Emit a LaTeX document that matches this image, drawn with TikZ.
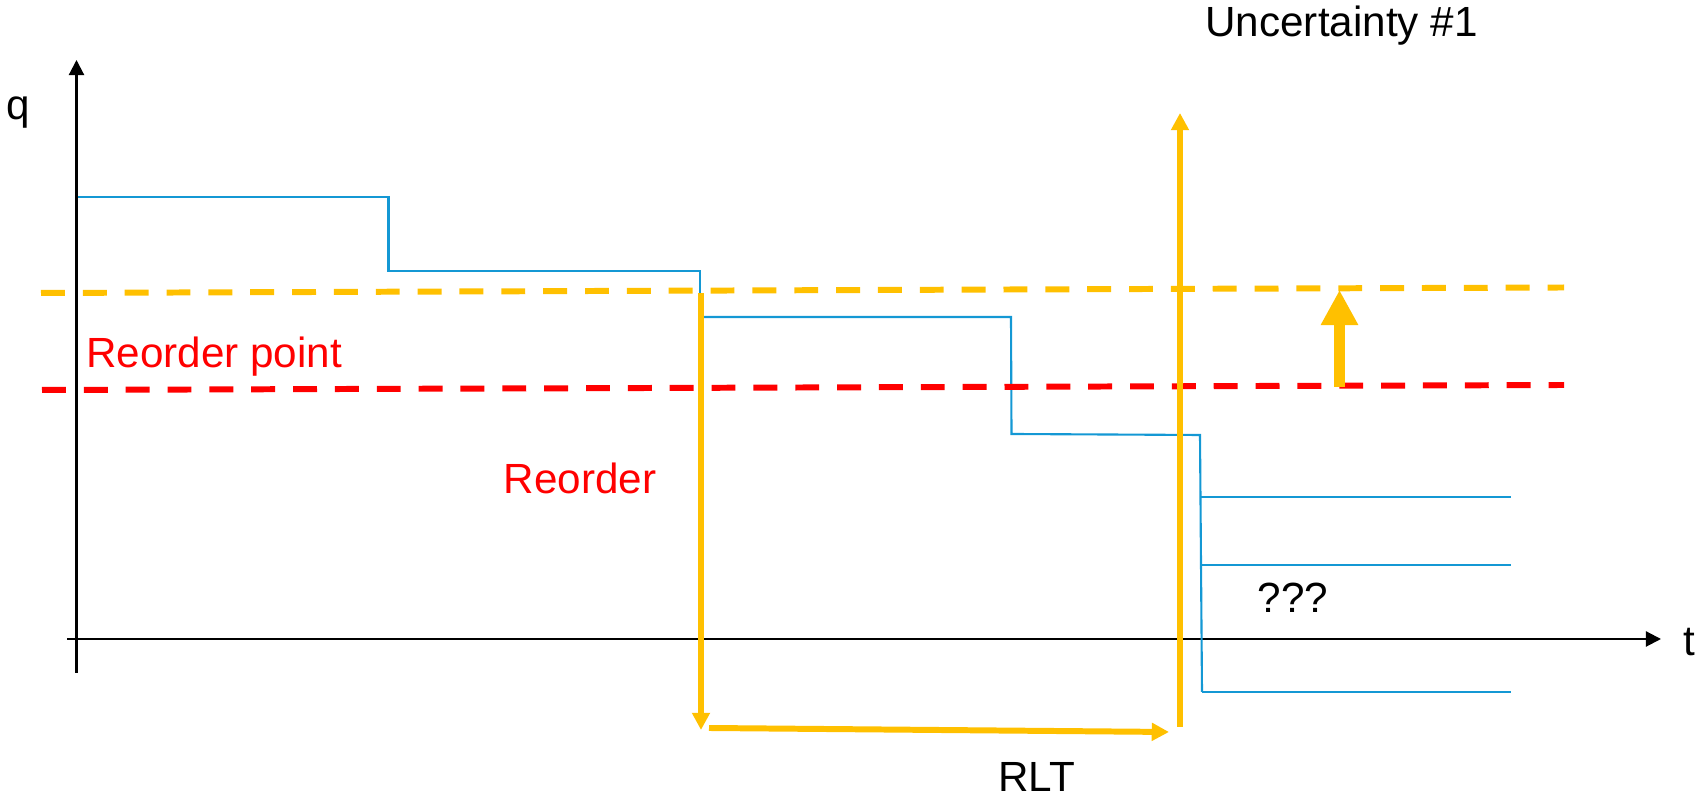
\documentclass[tikz,border=0pt]{standalone}
\usepackage{fontspec}
\setmainfont{Liberation Sans}
\usetikzlibrary{arrows.meta}
\definecolor{gold}{HTML}{FFC000}
\definecolor{stockblue}{RGB}{20,152,212}

\begin{document}
\begin{tikzpicture}[x=0.01cm, y=-0.01cm]
        \tikzset{axisline/.style={-{Triangle[width=4.3pt,length=4.3pt]}, line width=0.6pt},
                 stock/.style={stockblue, line width=0.6pt},
                 rop/.style={line width=1.7pt, dash pattern=on 6.8pt off 5.1pt},
                 lead/.style={gold, line width=1.7pt, -{Triangle[width=4.9pt,length=4.9pt]}},
                 txt/.style={font=\fontsize{12}{14}\selectfont, anchor=base}}
        \useasboundingbox (0,0) rectangle (1702,798);
        % axes
        \coordinate (y0) at (76.5,673);
        \coordinate (y1) at (76.5,60);
        \coordinate (x0) at (67,639);
        \coordinate (x1) at (1661,639);
        \draw[axisline] (y0) -- (y1);
        \draw[axisline] (x0) -- (x1);
        \node[txt] (q) at (18,120) {q};
        \node[txt] (t) at (1689.5,656) {t};
        % stock level
        \draw[stock] (77.5,197) -- (388.5,197) -- (388.5,271) -- (700,271) -- (700,293);
        \draw[stock] (704,317) -- (1011,317) -- (1011.5,434) -- (1200,435) -- (1202,692);
        \draw[stock] (1200,497) -- (1511,497);
        \draw[stock] (1200,565) -- (1511,565);
        \draw[stock] (1202,692) -- (1511,692);
        % reorder points
        \draw[rop, gold] (41,293) -- (1564,287.5);
        \draw[rop, red] (42,390) -- (1564,385);
        \node[txt, red] (rp) at (214,368) {Reorder point};
        \node[txt, red] (reorder) at (580,494) {Reorder};
        % lead time
        \coordinate (order) at (701,293);
        \coordinate (ordered) at (701,730);
        \coordinate (rlt0) at (709,728);
        \coordinate (rlt1) at (1169,732);
        \draw[lead] (order) -- (ordered);
        \draw[lead] (rlt0) -- (rlt1);
        \node[txt] (rlt) at (1036.5,792) {RLT};
        % uncertainty
        \coordinate (u0) at (1180,727);
        \coordinate (u1) at (1180,113);
        \draw[lead] (u0) -- (u1);
        \node[txt] (unc) at (1341.5,37) {Uncertainty \#1};
        \node[txt] (what) at (1293,613) {???};
        \coordinate (shift0) at (1339.5,387);
        \coordinate (shift1) at (1339.5,290);
        \draw[gold, line width=3pt, -{Triangle[width=10pt,length=10pt]}] (shift0) -- (shift1);
\end{tikzpicture}
\end{document}
